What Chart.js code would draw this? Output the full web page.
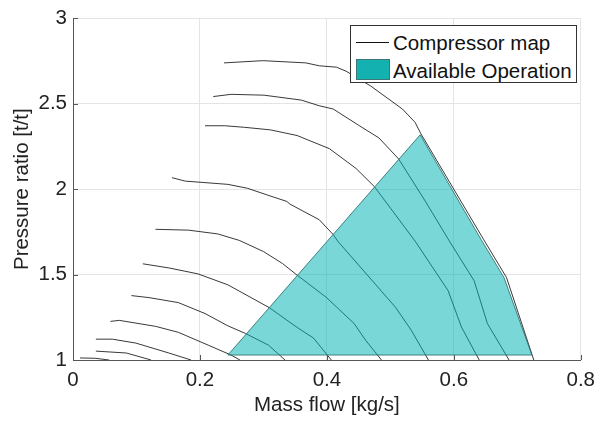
<!DOCTYPE html>
<html>
<head>
<meta charset="utf-8">
<script src="https://cdn.jsdelivr.net/npm/chart.js@4/dist/chart.umd.min.js"></script>
<style>
  body { margin: 0; background: #fff; }
  #wrap { position: relative; width: 603px; height: 423px; }
  #legend {
    position: absolute; left: 350px; top: 25px; width: 225px; height: 56px;
    border: 1px solid #333; background: #fff;
    font-family: 'Liberation Sans', Arial, sans-serif; font-size: 20.5px; color: #111;
  }
  #legend .txt { position: absolute; left: 42px; line-height: 24px; white-space: nowrap; }
  #legend .ln { position: absolute; left: 5px; top: 16px; width: 33px; height: 1px; background: #111; }
  #legend .sw { position: absolute; left: 5px; top: 33px; width: 32px; height: 19px; background: #14b1b1; border: 1px solid #3d7777; }
</style>
</head>
<body>
<div id="wrap">
  <canvas id="chart" width="603" height="423"></canvas>
  <div id="legend">
    <div class="ln"></div><div class="txt" style="top:5px">Compressor map</div>
    <div class="sw"></div><div class="txt" style="top:33px">Available Operation</div>
  </div>
</div>
<script>
//axis ticks
const flowTicks = [0, 0.2, 0.4, 0.6, 0.8];
const ratioTicks = [1, 1.5, 2, 2.5, 3];

//speed lines of the compressor map (mass flow [kg/s], pressure ratio)
const flow1 = [0.238, 0.299, 0.367, 0.388, 0.415, 0.430, 0.469, 0.519, 0.539, 0.548, 0.647, 0.683, 0.726];
const ratio1 = [2.739, 2.752, 2.739, 2.722, 2.714, 2.691, 2.604, 2.469, 2.391, 2.325, 1.705, 1.483, 1.0];
const flow2 = [0.221, 0.249, 0.301, 0.360, 0.388, 0.410, 0.450, 0.482, 0.513, 0.555, 0.593, 0.632, 0.653, 0.687];
const ratio2 = [2.542, 2.555, 2.550, 2.521, 2.488, 2.469, 2.374, 2.300, 2.177, 1.930, 1.696, 1.464, 1.213, 1.0];
const flow3 = [0.208, 0.239, 0.270, 0.311, 0.353, 0.404, 0.446, 0.475, 0.539, 0.591, 0.612, 0.640];
const ratio3 = [2.371, 2.371, 2.362, 2.347, 2.314, 2.237, 2.121, 2.014, 1.696, 1.406, 1.193, 1.0];
const flow4 = [0.156, 0.177, 0.244, 0.275, 0.306, 0.337, 0.342, 0.388, 0.410, 0.417, 0.508, 0.533, 0.560];
const ratio4 = [2.067, 2.047, 2.028, 2.005, 1.966, 1.928, 1.912, 1.821, 1.734, 1.696, 1.309, 1.174, 1.0];
const flow5 = [0.130, 0.182, 0.228, 0.262, 0.300, 0.330, 0.353, 0.399, 0.443, 0.461, 0.486];
const ratio5 = [1.765, 1.760, 1.738, 1.700, 1.635, 1.565, 1.497, 1.367, 1.213, 1.116, 1.0];
const flow6 = [0.110, 0.151, 0.197, 0.244, 0.309, 0.353, 0.379, 0.407];
const ratio6 = [1.563, 1.539, 1.504, 1.440, 1.307, 1.191, 1.128, 1.0];
const flow7 = [0.092, 0.120, 0.166, 0.208, 0.244, 0.272, 0.308, 0.334];
const ratio7 = [1.377, 1.365, 1.336, 1.272, 1.200, 1.155, 1.087, 1.0];
const flow8 = [0.059, 0.073, 0.130, 0.166, 0.213, 0.249, 0.263];
const ratio8 = [1.226, 1.232, 1.197, 1.162, 1.087, 1.029, 1.0];
const flow9 = [0.036, 0.062, 0.099, 0.151, 0.186];
const ratio9 = [1.122, 1.122, 1.099, 1.041, 1.0];
const flow10 = [0.036, 0.084, 0.123];
const ratio10 = [1.052, 1.041, 1.0];
const flow11 = [0.011, 0.035, 0.057];
const ratio11 = [1.012, 1.010, 1.0];

//outline of the available operation area
const opFlow = [0.244, 0.547, 0.643, 0.679, 0.723, 0.244];
const opRatio = [1.029, 2.318, 1.705, 1.483, 1.029, 1.029];

const FONT = "'Liberation Sans', Arial, sans-serif";
const AXIS = '#555';

const toPoints = (xs, ys) => xs.map((x, i) => ({ x, y: ys[i] }));

const speedLines = [
  [flow1, ratio1], [flow2, ratio2], [flow3, ratio3], [flow4, ratio4], [flow5, ratio5], [flow6, ratio6],
  [flow7, ratio7], [flow8, ratio8], [flow9, ratio9], [flow10, ratio10], [flow11, ratio11]
].map(([xs, ys], i) => ({
  label: i === 0 ? 'Compressor map' : '',
  data: toPoints(xs, ys),
  borderColor: 'rgba(0,0,0,0.78)',
  borderWidth: 1,
  pointRadius: 0,
  fill: false,
  order: 1
}));

//inward tick marks like matlab
const innerTicks = {
  id: 'innerTicks',
  afterDraw(chart) {
    const { ctx, chartArea, scales } = chart;
    ctx.save();
    ctx.strokeStyle = AXIS;
    ctx.lineWidth = 1;
    ctx.beginPath();
    flowTicks.forEach(v => {
      const px = Math.round(scales.x.getPixelForValue(v)) + 0.5;
      ctx.moveTo(px, chartArea.bottom);
      ctx.lineTo(px, chartArea.bottom - 5);
    });
    ratioTicks.forEach(v => {
      const py = Math.round(scales.y.getPixelForValue(v)) + 0.5;
      ctx.moveTo(chartArea.left, py);
      ctx.lineTo(chartArea.left + 5, py);
    });
    ctx.stroke();
    ctx.restore();
  }
};

new Chart(document.getElementById('chart'), {
  type: 'line',
  data: {
    datasets: [{
      label: 'Available Operation',
      data: toPoints(opFlow, opRatio),
      borderColor: 'rgba(45,110,110,0.85)',
      borderWidth: 1,
      backgroundColor: 'rgba(0,178,178,0.52)',
      pointRadius: 0,
      fill: 'shape',
      order: 0
    }, ...speedLines]
  },
  options: {
    responsive: false,
    animation: false,
    layout: { padding: { top: 15, right: 15, left: 0, bottom: 0 } },
    plugins: { legend: { display: false }, tooltip: { enabled: false } },
    scales: {
      x: {
        type: 'linear', min: 0, max: 0.8,
        afterBuildTicks: s => { s.ticks = flowTicks.map(v => ({ value: v })); },
        afterFit: s => { s.height = 63; },
        grid: { color: '#e4e4e4', drawTicks: false },
        border: { color: AXIS },
        ticks: { color: '#222', padding: 8, font: { family: FONT, size: 20.5 }, maxRotation: 0, callback: v => String(v) },
        title: { display: true, text: 'Mass flow [kg/s]', color: '#222', padding: { bottom: 5 }, font: { family: FONT, size: 20.5 } }
      },
      y: {
        type: 'linear', min: 1, max: 3,
        afterBuildTicks: s => { s.ticks = ratioTicks.map(v => ({ value: v })); },
        afterFit: s => { s.width = 73; },
        grid: { color: '#e4e4e4', drawTicks: false },
        border: { color: AXIS },
        ticks: { color: '#222', padding: 6, font: { family: FONT, size: 20.5 }, callback: v => String(v) },
        title: { display: true, text: 'Pressure ratio [t/t]', color: '#222', padding: { top: 10 }, font: { family: FONT, size: 20.5 } }
      }
    }
  },
  plugins: [innerTicks]
});
</script>
</body>
</html>
